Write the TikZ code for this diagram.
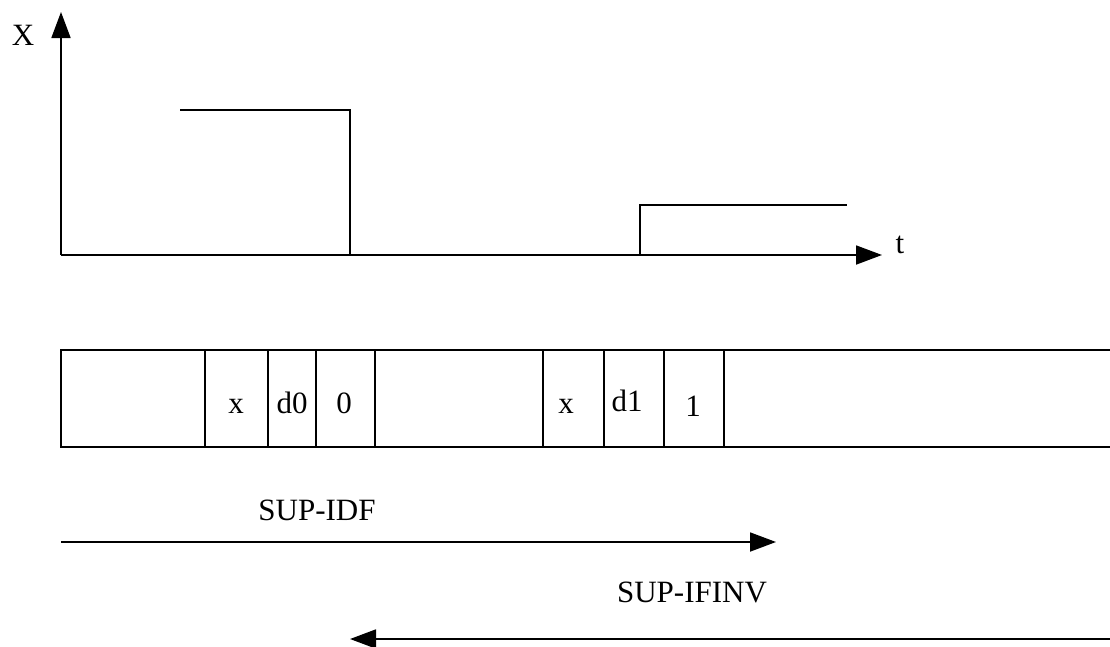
\documentclass[tikz,border=0pt]{standalone}
\usepackage{fontspec}
\setmainfont{Liberation Serif}
\usetikzlibrary{arrows.meta}
\begin{document}
\begin{tikzpicture}[x=1pt,y=-1pt,
  line/.style={line width=1.8pt},
  arr/.style={line width=1.8pt,-{Triangle[length=26pt,width=19pt]}},
  lbl/.style={font=\fontsize{31}{31}\selectfont,anchor=base,inner sep=0pt},
  cellline/.style={line width=1.8pt}]
\useasboundingbox (0,0) rectangle (1110,646);
% axes
\coordinate (O) at (61,255);
\coordinate (Ytip) at (61,12);
\coordinate (Ttip) at (882,255);
\draw[arr] (O) -- (Ytip);
\draw[arr] (O) -- (Ttip);
\node[lbl] (Xl) at (23,45) {X};
\node[lbl] (tl) at (900,253) {t};
% signal
\coordinate (s1) at (180,110);
\coordinate (s2) at (350,110);
\coordinate (s3) at (350,255);
\coordinate (s4) at (640,255);
\coordinate (s5) at (640,205);
\coordinate (s6) at (847,205);
\draw[line] (s1) -- (s2) -- (s3);
\draw[line] (s4) -- (s5) -- (s6);
% tape
\coordinate (tl0) at (61,350);
\coordinate (bl0) at (61,447);
\coordinate (tr0) at (1110,350);
\coordinate (br0) at (1110,447);
\draw[cellline] (tr0) -- (tl0) -- (bl0) -- (br0);
\foreach \xx in {205,268,316,375,543,604,664,724}{
  \draw[cellline] (\xx,350) -- (\xx,447);
}
\node[lbl] (c1) at (236,413) {x};
\node[lbl] (c2) at (292,413) {d0};
\node[lbl] (c3) at (344,413) {0};
\node[lbl] (c4) at (566,413) {x};
\node[lbl] (c5) at (627,411) {d1};
\node[lbl] (c6) at (693,416) {1};
% directions
\node[lbl] (idf) at (317,520) {SUP-IDF};
\node[lbl] (ifinv) at (692,602) {SUP-IFINV};
\coordinate (a1s) at (61,542);
\coordinate (a1e) at (776,542);
\coordinate (a2s) at (1110,639);
\coordinate (a2e) at (350,639);
\draw[arr] (a1s) -- (a1e);
\draw[arr] (a2s) -- (a2e);
\end{tikzpicture}
\end{document}
